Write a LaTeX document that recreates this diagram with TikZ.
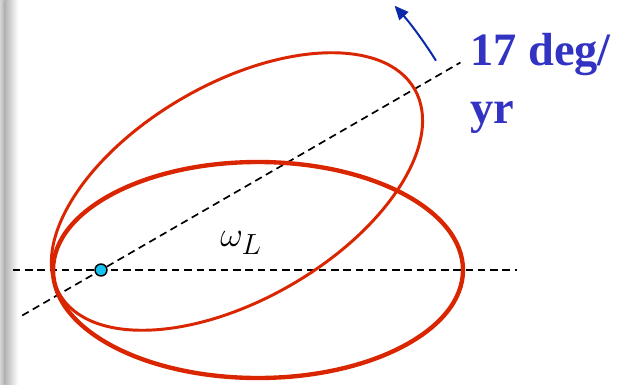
\documentclass[tikz,border=0pt]{standalone}
\usepackage{fontspec}
\setmainfont{Liberation Serif}
\usetikzlibrary{calc,arrows.meta}

\begin{document}
\begin{tikzpicture}[x=0.025cm, y=0.025cm,
  orbit/.style={draw={rgb,255:red,218;green,38;blue,0}},
  axis/.style={dash pattern=on 5.3pt off 3.4pt, line width=1.2pt},
  precess/.style={draw={rgb,255:red,10;green,40;blue,170}, line width=1.4pt,
    -{Triangle[length=10pt,width=8.5pt]}}]
\useasboundingbox (0,0) rectangle (617,384);
\fill[white] (0,0) rectangle (617,384);
% gray edge on the left
\shade[left color=black!16, right color=black!30] (0,0) rectangle (4.5,384);
\shade[left color=black!30, right color=white] (4.5,0) rectangle (18,384);

\coordinate (o) at (101,114);
\coordinate (hl) at (13,114);
\coordinate (hr) at (517,114);

\draw[axis] (hl) -- (hr);
\draw[axis] ($(o)+(210:91)$) -- ($(o)+(30:415)$);

% orbit now and rotated orbit
\draw[orbit, line width=3.1pt] ($(o)+(157,0)$) ellipse [x radius=205, y radius=108];
\draw[orbit, line width=2.1pt, rotate around={30:(o)}] ($(o)+(157,0)$) ellipse [x radius=205, y radius=108];

\draw[precess] ($(o)+(32:395)$) arc[start angle=32, end angle=42, radius=395];

\node[circle, draw, line width=1pt, fill={rgb,255:red,20;green,195;blue,240},
  minimum size=0.3cm, inner sep=0pt] (star) at (o) {};
\node[font=\fontsize{31}{36}\selectfont] (omega) at (241,141) {$\omega_L$};
\node[anchor=base west, align=left, inner sep=0pt, text={rgb,255:red,50;green,50;blue,195},
  font=\bfseries\fontsize{33}{41}\selectfont] (rate) at (470,261) {17 deg/\\yr};
\end{tikzpicture}
\end{document}
